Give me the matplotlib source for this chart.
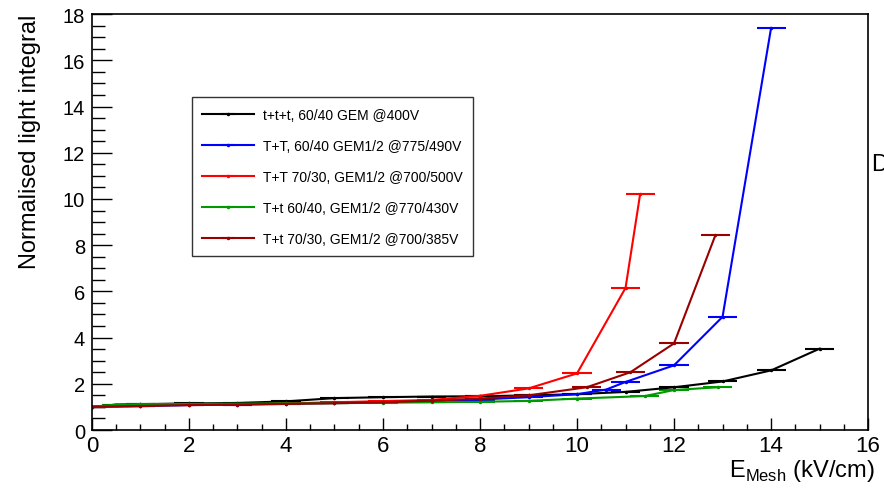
import matplotlib
matplotlib.use('Agg')
import matplotlib.pyplot as plt
from matplotlib.ticker import MultipleLocator

plt.rcParams['font.family'] = ['Liberation Sans', 'DejaVu Sans']
plt.rcParams['mathtext.fontset'] = 'custom'
plt.rcParams['mathtext.rm'] = 'Liberation Sans'

# data
x_black = [0, 0.5, 1, 2, 3, 4, 5, 6, 7, 8, 9, 10, 11, 12, 13, 14, 15]
y_black = [1.0, 1.1, 1.12, 1.15, 1.17, 1.24, 1.38, 1.42, 1.45, 1.46, 1.5, 1.55, 1.65, 1.85, 2.1, 2.58, 3.52]

x_blue = [0, 1, 2, 3, 4, 5, 6, 7, 8, 9, 10, 10.6, 11, 12, 13, 14]
y_blue = [1.0, 1.03, 1.08, 1.1, 1.13, 1.17, 1.2, 1.25, 1.32, 1.42, 1.55, 1.75, 2.08, 2.8, 4.9, 17.4]

x_red = [0, 1, 2, 3, 4, 5, 6, 7, 8, 9, 10, 11, 11.3]
y_red = [1.0, 1.05, 1.1, 1.12, 1.15, 1.2, 1.25, 1.3, 1.48, 1.8, 2.45, 6.15, 10.2]

x_green = [0, 0.5, 1, 2, 3, 4, 5, 6, 7, 8, 9, 10, 11.4, 12, 12.9]
y_green = [1.0, 1.1, 1.12, 1.13, 1.14, 1.15, 1.16, 1.18, 1.2, 1.22, 1.26, 1.36, 1.47, 1.73, 1.85]

x_dred = [0, 1, 2, 3, 4, 5, 6, 7, 8, 9, 10.2, 11.1, 12, 12.85]
y_dred = [1.0, 1.04, 1.08, 1.1, 1.13, 1.16, 1.2, 1.27, 1.36, 1.5, 1.85, 2.5, 3.75, 8.42]

x_err = 0.3

series = [
    (x_black, y_black, 'black', 't+t+t, 60/40 GEM @400V'),
    (x_blue, y_blue, '#0000ff', 'T+T, 60/40 GEM1/2 @775/490V'),
    (x_red, y_red, '#ff0000', 'T+T 70/30, GEM1/2 @700/500V'),
    (x_green, y_green, '#009900', 'T+t 60/40, GEM1/2 @770/430V'),
    (x_dred, y_dred, '#990000', 'T+t 70/30, GEM1/2 @700/385V'),
]

fig = plt.figure(figsize=(8.84, 4.89), dpi=100)
ax = fig.add_axes([0.104, 0.1186, 0.878, 0.8504])

for xs, ys, col, lab in series:
    ax.errorbar(xs, ys, xerr=x_err, color=col, lw=1.5, elinewidth=1.5,
                marker='.', ms=3, capsize=0, label=lab)

ax.set_xlim(0, 16)
ax.set_ylim(0, 18)
ax.xaxis.set_major_locator(MultipleLocator(2))
ax.xaxis.set_minor_locator(MultipleLocator(0.5))
ax.yaxis.set_major_locator(MultipleLocator(2))
ax.yaxis.set_minor_locator(MultipleLocator(0.5))
ax.tick_params(axis='both', which='both', direction='in',
               top=False, right=False, width=1.0)
ax.tick_params(axis='x', which='major', length=8.6, pad=3.5, labelsize=16)
ax.tick_params(axis='x', which='minor', length=4.3)
ax.tick_params(axis='y', which='major', length=14.4, pad=5, labelsize=14.5)
ax.tick_params(axis='y', which='minor', length=9)
for sp in ax.spines.values():
    sp.set_linewidth(1.2)

fig.text(0.034, 0.971, 'Normalised light integral', fontsize=17,
         rotation=90, ha='center', va='top')
fig.text(0.99, 0.0245, r'E$_{\mathrm{Mesh}}$ (kV/cm)', fontsize=17,
         ha='right', va='baseline')

leg = ax.legend(loc='upper left', bbox_to_anchor=(0.1289, 0.8005), fontsize=10,
                frameon=True, fancybox=False, edgecolor='black',
                labelspacing=1.23, handlelength=3.7, borderpad=0.75,
                handletextpad=0.65, borderaxespad=0)
leg.get_frame().set_linewidth(1.0)

fig.text(0.986, 0.663, 'D', fontsize=17, va='center', ha='left')

fig.savefig('out.png', dpi=100)
